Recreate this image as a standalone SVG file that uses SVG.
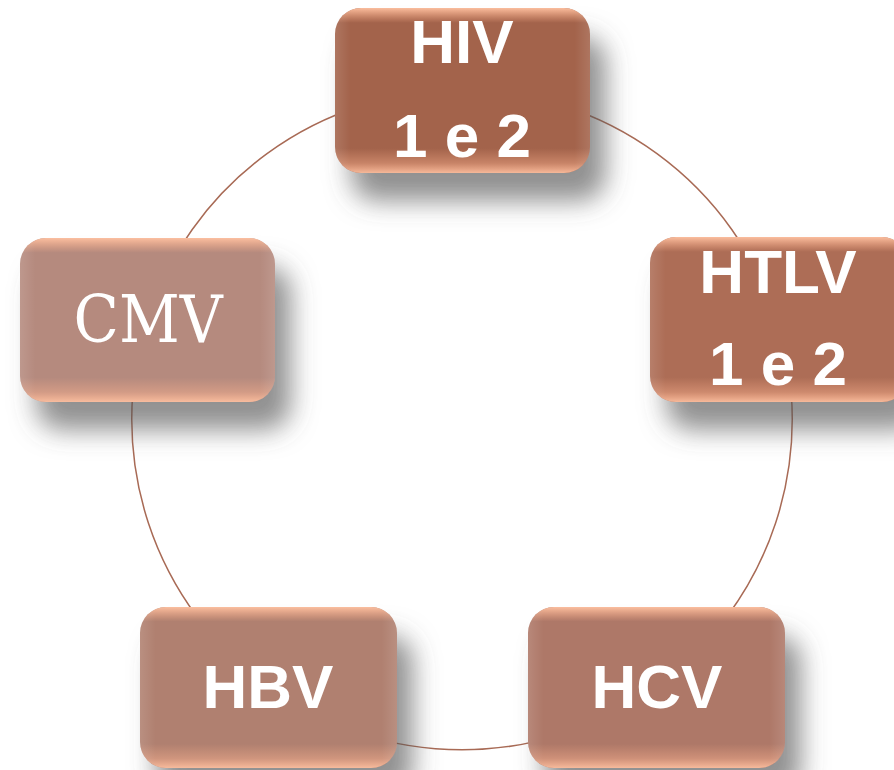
<svg xmlns="http://www.w3.org/2000/svg" width="894" height="770" viewBox="0 0 894 770">
<defs>
<filter id="sh" x="-25%" y="-25%" width="160%" height="180%">
<feGaussianBlur in="SourceAlpha" stdDeviation="13"/>
<feOffset dx="16" dy="28" result="b"/>
<feFlood flood-color="#555555" flood-opacity="0.65"/>
<feComposite in2="b" operator="in" result="s"/>
<feMerge><feMergeNode in="s"/><feMergeNode in="SourceGraphic"/></feMerge>
</filter>
<linearGradient id="gl" x1="0" y1="0" x2="0" y2="1">
<stop offset="0" stop-color="#ffc2a2" stop-opacity="0.95"/>
<stop offset="0.09" stop-color="#ffb08a" stop-opacity="0"/>
<stop offset="0.85" stop-color="#ffb08a" stop-opacity="0"/>
<stop offset="0.94" stop-color="#ffb592" stop-opacity="0.4"/>
<stop offset="1" stop-color="#ffc2a2" stop-opacity="0.9"/>
</linearGradient>
<linearGradient id="gs" x1="0" y1="0" x2="1" y2="0">
<stop offset="0" stop-color="#ffffff" stop-opacity="0.12"/>
<stop offset="0.06" stop-color="#ffffff" stop-opacity="0"/>
<stop offset="0.94" stop-color="#ffffff" stop-opacity="0"/>
<stop offset="1" stop-color="#ffffff" stop-opacity="0.12"/>
</linearGradient>
</defs>
<style>
.arc{fill:none;stroke:#a86a55;stroke-width:1.5}
.lbl{fill:#ffffff;font-family:"Liberation Sans",Arial,sans-serif;font-weight:bold;font-size:62px;text-anchor:middle}
.ser{fill:#ffffff;font-family:"DejaVu Serif","Liberation Serif",serif;font-size:66px;text-anchor:middle}
.ov{fill:url(#gl)}
.ov2{fill:url(#gs)}
</style>
<g id="connectors">
<path class="arc" d="M462 90 A331 331 0 0 1 777 320"/>
<path class="arc" d="M777 320 A331 331 0 0 1 656 687"/>
<path class="arc" d="M656 687 A331 331 0 0 1 268 687"/>
<path class="arc" d="M268 687 A331 331 0 0 1 147 320"/>
<path class="arc" d="M147 320 A331 331 0 0 1 462 90"/>
</g>
<g id="hiv">
<rect x="335" y="8" width="255" height="165" rx="26" fill="#a3644c" filter="url(#sh)"/>
<rect x="335" y="8" width="255" height="165" rx="26" class="ov"/>
<rect x="335" y="8" width="255" height="165" rx="26" class="ov2"/>
<text class="lbl" x="462" y="63">HIV</text>
<text class="lbl" x="462" y="157">1 e 2</text>
</g>
<g id="htlv">
<rect x="650" y="237" width="258" height="165" rx="26" fill="#ad6d57" filter="url(#sh)"/>
<rect x="650" y="237" width="258" height="165" rx="26" class="ov"/>
<rect x="650" y="237" width="258" height="165" rx="26" class="ov2"/>
<text class="lbl" x="778" y="293">HTLV</text>
<text class="lbl" x="778" y="385">1 e 2</text>
</g>
<g id="cmv">
<rect x="20" y="238" width="255" height="164" rx="26" fill="#b58a7e" filter="url(#sh)"/>
<rect x="20" y="238" width="255" height="164" rx="26" class="ov"/>
<rect x="20" y="238" width="255" height="164" rx="26" class="ov2"/>
<text class="ser" x="148" y="342" textLength="149" lengthAdjust="spacingAndGlyphs">CMV</text>
</g>
<g id="hbv">
<rect x="140" y="607" width="257" height="161" rx="26" fill="#b08070" filter="url(#sh)"/>
<rect x="140" y="607" width="257" height="161" rx="26" class="ov"/>
<rect x="140" y="607" width="257" height="161" rx="26" class="ov2"/>
<text class="lbl" x="268" y="708">HBV</text>
</g>
<g id="hcv">
<rect x="528" y="607" width="257" height="161" rx="26" fill="#ae7868" filter="url(#sh)"/>
<rect x="528" y="607" width="257" height="161" rx="26" class="ov"/>
<rect x="528" y="607" width="257" height="161" rx="26" class="ov2"/>
<text class="lbl" x="657" y="708">HCV</text>
</g>
</svg>
